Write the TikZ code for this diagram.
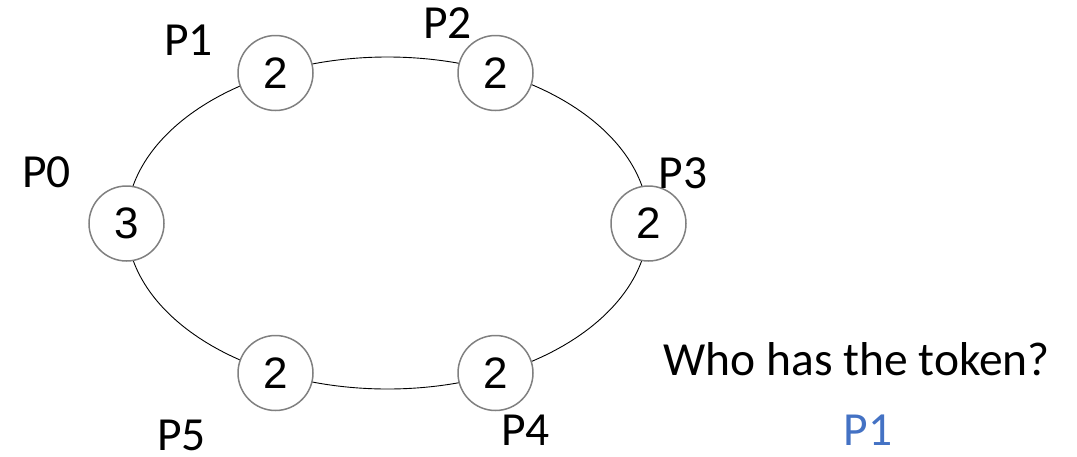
\documentclass[tikz,border=0pt]{standalone}
\usepackage{fontspec}
\setmainfont{Carlito}
\newfontfamily\numfont{Liberation Sans}
\usetikzlibrary{positioning}
\definecolor{rim}{RGB}{128,128,128}
\definecolor{ink}{RGB}{0,0,0}
\definecolor{ans}{RGB}{68,114,196}

\begin{document}
\begin{tikzpicture}[
  x=1pt, y=-1pt,
  every node/.style={inner sep=0pt, text=ink},
  proc/.style={circle, draw=rim, line width=1.5pt, fill=white,
               minimum size=75pt, font=\numfont\fontsize{44}{46}\selectfont},
  ring/.style={draw=ink, line width=0.9pt},
  lab/.style={anchor=base, font=\fontsize{47.5}{52}\selectfont},
]
\useasboundingbox (0,0) rectangle (1077,456);

% the ring the token travels on
\coordinate (mid) at (387.5,223);
\draw[ring] (mid) ellipse [x radius=261, y radius=166];

% processes with their current values
\foreach \n/\x/\y/\v in {p0/126.5/223.5/3, p1/275.5/73/2, p2/495.5/73/2,
                         p3/648.5/223.5/2, p4/495.5/373/2, p5/275.5/373/2} {
  \node[proc] (\n) at (\x,\y) {\v};
}

% process names
\node[lab] (n0) at (46.5,187)  {P0};
\node[lab] (n1) at (188.7,55)  {P1};
\node[lab] (n2) at (447.5,38.5) {P2};
\node[lab] (n3) at (683.3,188.3) {P3};
\node[lab] (n4) at (525.5,445) {P4};
\node[lab] (n5) at (181.7,450) {P5};

% question and answer
\node[lab] (ask) at (856.7,375) {Who has the token?};
\node[lab, text=ans] (who) at (868,445) {P1};

\end{tikzpicture}
\end{document}
